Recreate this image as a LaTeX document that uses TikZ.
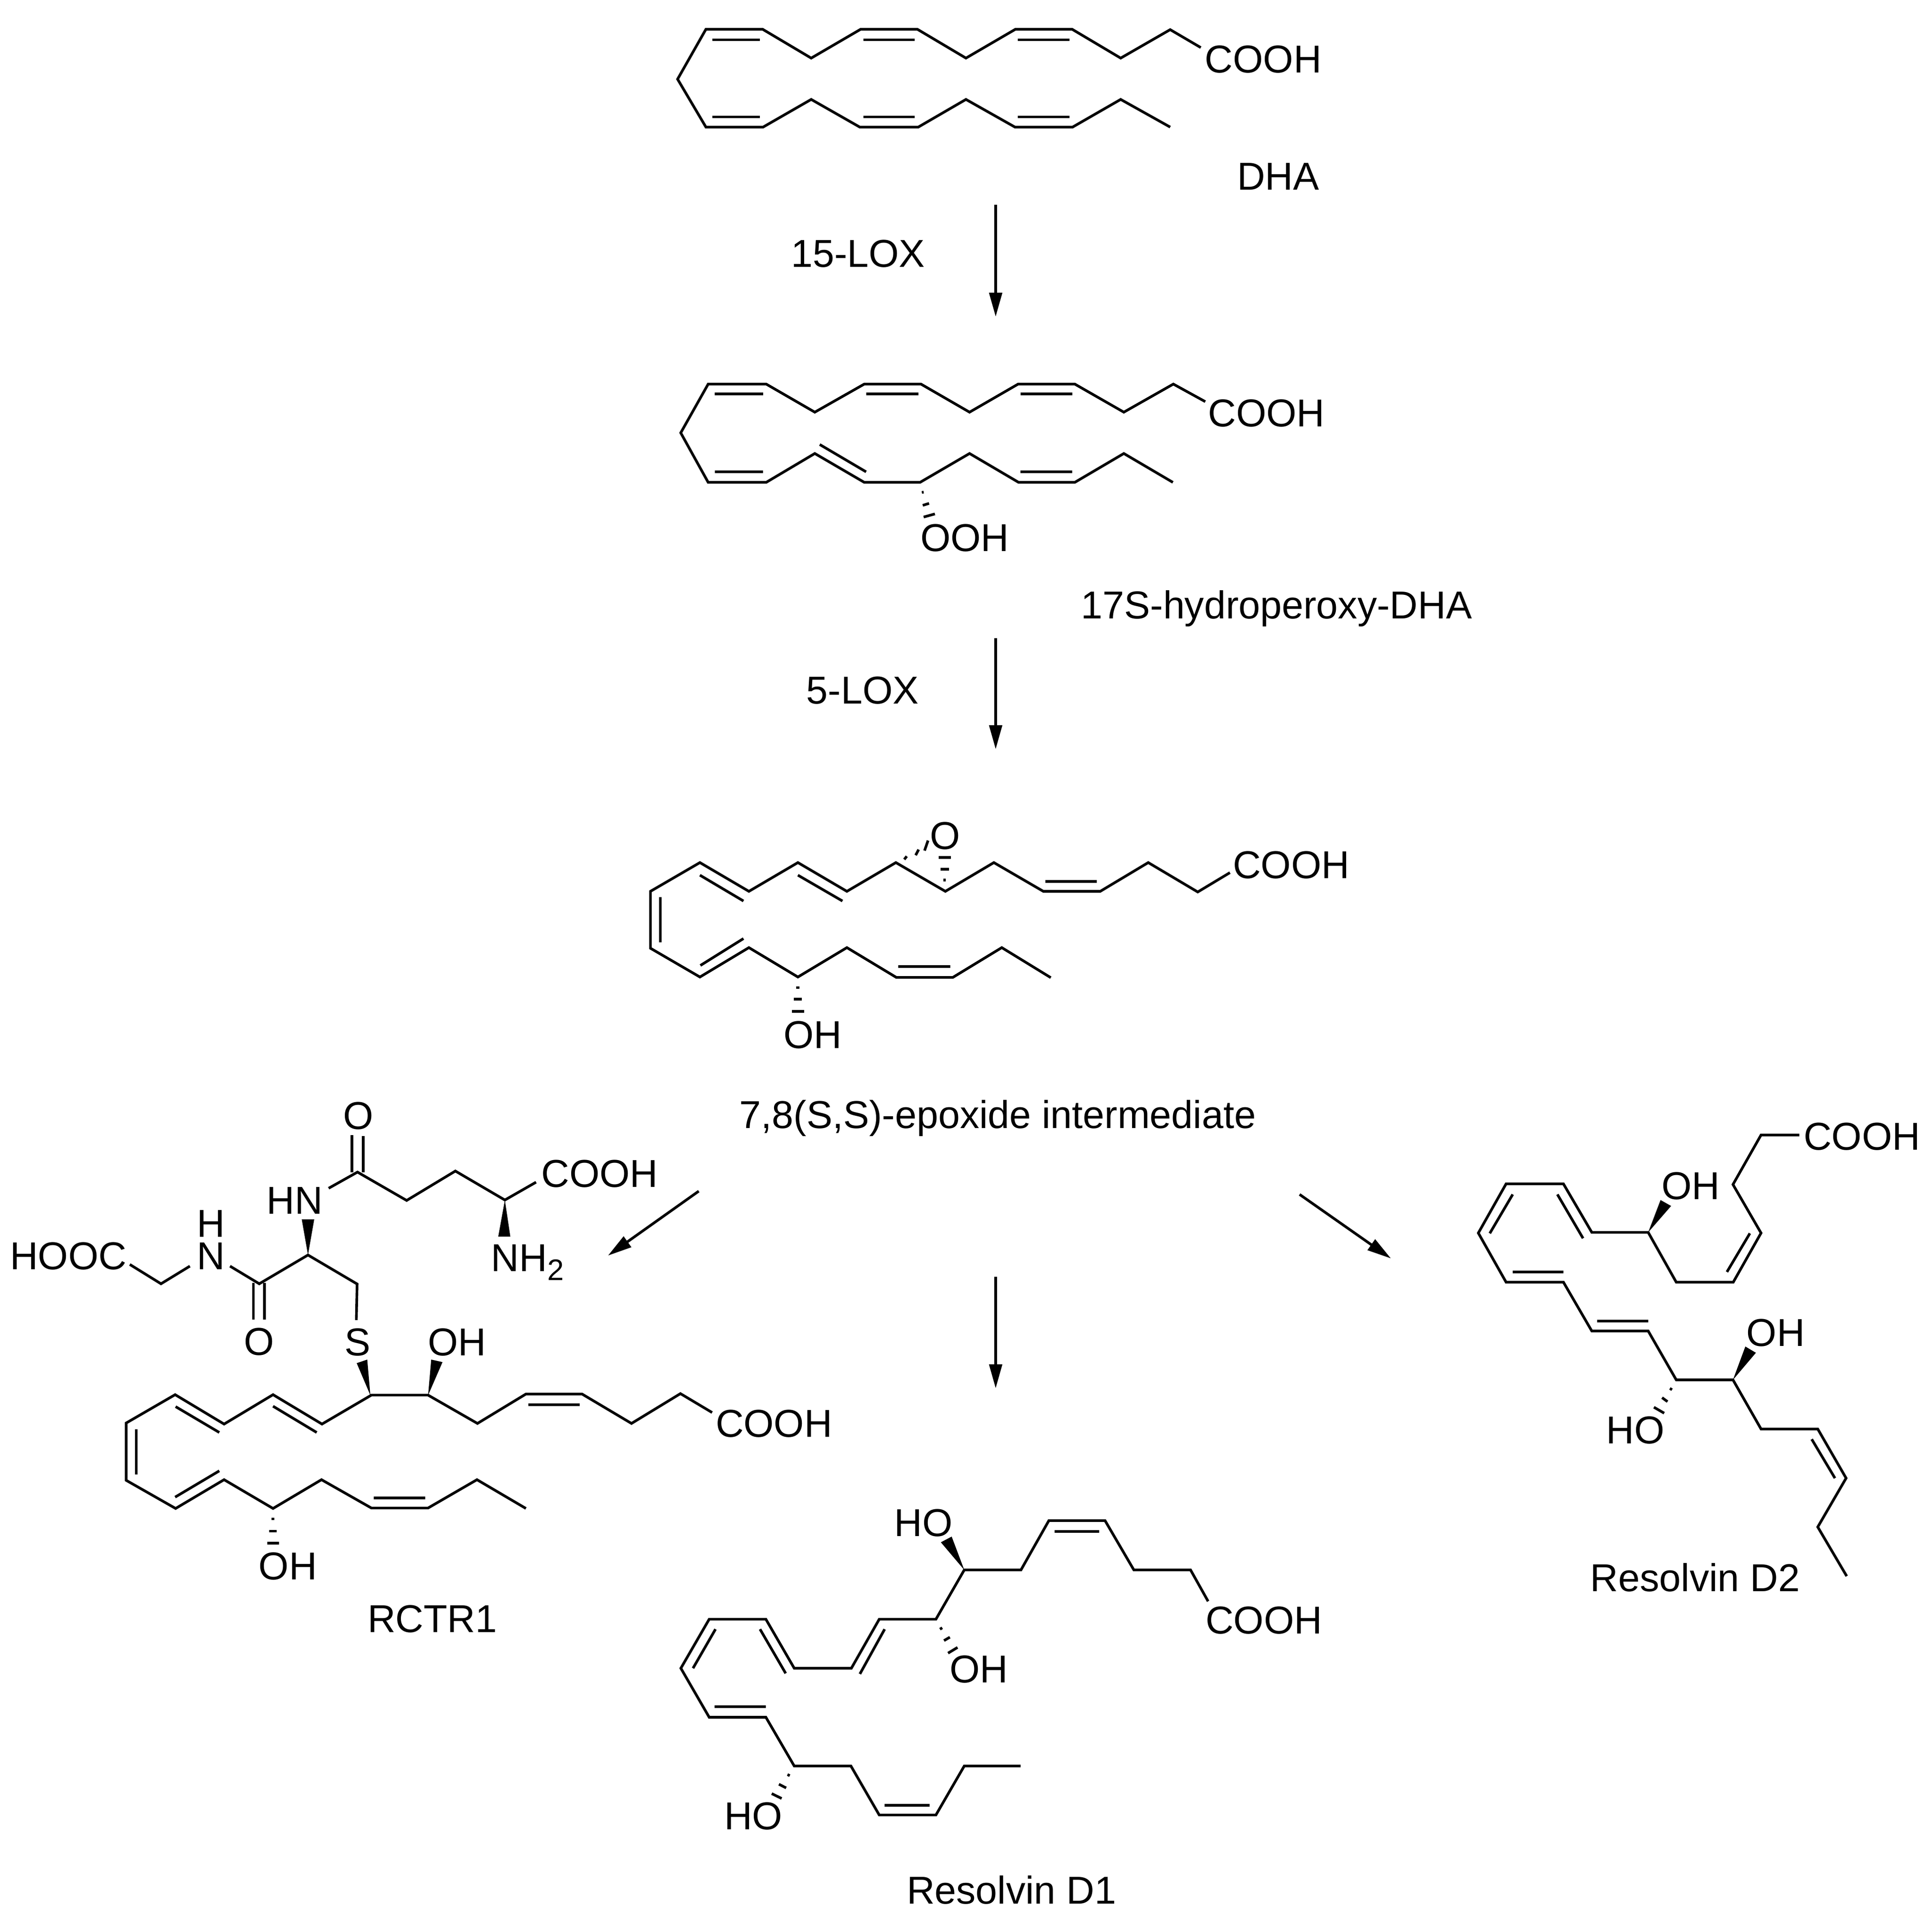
\documentclass[tikz,border=0pt]{standalone}
\usepackage{fontspec}
\setmainfont{Liberation Sans}
\usetikzlibrary{arrows.meta}
\newcommand{\subtwo}{\raisebox{-5.4pt}{\fontsize{18}{18}\selectfont 2}}
\tikzset{
  crop/.style n args={4}{shift={(#1*0.01cm,-#2*0.01cm)},x={0.01cm*#3/1568},y={-0.01cm*#4/1568}},
  bond/.style={line width=1.6pt,line join=miter},
  lab/.style={anchor=base,inner sep=0pt,xshift=0.01cm,yshift=-0.02cm,font=\fontsize{23.5}{28}\selectfont},
  rxn/.style={line width=1.6pt,-{Triangle[length=0.51cm,width=0.27cm]}},
}
\begin{document}
\begin{tikzpicture}
  \useasboundingbox (0,0) rectangle (41.06,-41.00);

  \begin{scope}[crop={1350}{0}{1500}{1300}]
    \draw[bond] (1258,122) -- (1190,76) -- (1080,149) -- (972,75) -- (846,75) -- (736,149) -- (628,75) -- (502,75) -- (392,149) -- (284,75) -- (158,75) -- (95,203) -- (158,326) -- (285,326) -- (392,255) -- (500,326) -- (630,326) -- (736,255) -- (845,326) -- (973,326) -- (1080,255) -- (1190,326);
    \draw[bond] (172,102) -- (278,102) (508,102) -- (622,102) (851,102) -- (966,102);
    \draw[bond] (172,300) -- (278,300) (508,300) -- (622,300) (851,300) -- (966,300);
    \node[lab] (cooh1) at (1396,184) {COOH};
    \node[lab] (dha) at (1429,485) {DHA};
    \node[lab] (lox15) at (495,683) {15-LOX};

    \draw[bond] (1268,1030) -- (1197,985) -- (1087,1057) -- (978,985) -- (852,985) -- (744,1057) -- (636,985) -- (510,985) -- (400,1057) -- (292,985) -- (163,985) -- (102,1110) -- (163,1237) -- (292,1237) -- (400,1163) -- (510,1237) -- (634,1237) -- (744,1163) -- (853,1237) -- (978,1237) -- (1087,1163) -- (1196,1237);
    \draw[bond] (178,1010) -- (285,1010) (514,1010) -- (630,1010) (857,1010) -- (972,1010);
    \draw[bond] (178,1210) -- (285,1210) (411,1140) -- (514,1210) (857,1210) -- (972,1210);
    \draw[bond] (638,1263) -- (642,1262) (640,1296) -- (654,1291) (642,1326) -- (667,1318);
    \node[lab] (cooh2) at (1403,1092) {COOH};
    \node[lab] (ooh) at (732,1412) {OOH};
  \end{scope}

  \node[lab] (hpdha) at (27.12,-13.12) {17S-hydroperoxy-DHA};
  \node[lab] (lox5) at (18.32,-14.93) {5-LOX};

  \begin{scope}[crop={1300}{1700}{1650}{700}]
    \draw[bond] (1250,348) -- (1185,440) -- (1085,300) -- (988,437) -- (873,437) -- (773,300) -- (675,437) -- (575,300) -- (476,437) -- (377,300) -- (278,437) -- (179,300) -- (79,437) -- (79,708) -- (179,845) -- (278,705) -- (377,845) -- (476,705) -- (576,847) -- (690,847) -- (789,705) -- (888,848);
    \draw[bond] (877,390) -- (981,390) (377,360) -- (467,483) (179,360) -- (267,483);
    \draw[bond] (99,465) -- (99,680) (180,790) -- (267,662) (580,795) -- (685,795);
    \draw[bond] (592,285) -- (597,270) (615,265) -- (621,238) (633,243) -- (640,195);
    \draw[bond] (671,383) -- (676,383) (665,332) -- (682,332) (662,275) -- (686,275);
    \draw[bond] (373,895) -- (380,895) (369,950) -- (385,950) (365,1008) -- (390,1008);
    \node[lab] (epo) at (674,232) {O};
    \node[lab] (cooh3) at (1373,370) {COOH};
    \node[lab] (oh3) at (406,1180) {OH};
    \node[lab] (epoxide) at (780,1560) {7,8(S,S)-epoxide intermediate};
  \end{scope}

  \begin{scope}[crop={0}{2300}{1300}{700}]
    \node[lab] (ogln) at (918,222) {O};
    \draw[bond] (903,255) -- (903,430) (932,258) -- (932,432);
    \draw[bond] (843,507) -- (917,430) -- (1043,565) -- (1168,425) -- (1295,563) -- (1375,478);
    \node[lab] (cooh4) at (1537,497) {COOH};
    \fill (1295,563) -- (1278,737) -- (1309,737) -- cycle;
    \node[lab] (nh2) at (1352,898) {NH\subtwo};
    \node[lab] (hn) at (755,624) {HN};
    \fill (790,825) -- (774,655) -- (806,655) -- cycle;
    \draw[bond] (590,878) -- (665,962) -- (790,825) -- (916,963) -- (914,1135);
    \draw[bond] (650,958) -- (650,1133) (678,958) -- (678,1133);
    \node[lab] (ogly) at (663,1297) {O};
    \node[lab,anchor=south,align=center] (ngly) at (540,892) {H\\[-8.1pt]N};
    \node[lab] (hooc) at (174,890) {HOOC};
    \draw[bond] (333,870) -- (413,962) -- (487,878);
    \node[lab] (sul) at (916,1300) {S};
    \node[lab] (oh4) at (1171,1300) {OH};
    \fill (950,1493) -- (915,1340) -- (942,1323) -- cycle;
    \fill (1098,1493) -- (1106,1323) -- (1135,1335) -- cycle;
  \end{scope}

  \begin{scope}[crop={200}{2800}{1600}{700}]
    \draw[bond] (1288,455) -- (1222,365) -- (1120,507) -- (1017,367) -- (900,367) -- (799,507) -- (696,372) -- (578,372) -- (475,510) -- (373,370) -- (271,510) -- (169,370) -- (67,505) -- (67,778) -- (170,912) -- (271,775) -- (373,912) -- (474,775) -- (578,910) -- (696,910) -- (798,775) -- (900,912);
    \draw[bond] (905,418) -- (1012,418) (373,425) -- (464,550) (170,427) -- (261,550);
    \draw[bond] (88,535) -- (88,750) (169,858) -- (261,733) (583,862) -- (690,862);
    \draw[bond] (370,962) -- (376,962) (365,1020) -- (381,1020) (361,1077) -- (385,1077);
    \node[lab] (oh5) at (403,1247) {OH};
    \node[lab] (cooh5) at (1416,568) {COOH};
    \node[lab] (rctr) at (704,1498) {RCTR1};
  \end{scope}

  \begin{scope}[crop={1400}{3150}{1500}{950}]
    \draw[bond] (1222,420) -- (1183,310) -- (1057,310) -- (993,137) -- (868,137) -- (806,310) -- (680,310) -- (617,483) -- (491,483) -- (429,655) -- (302,655) -- (239,483) -- (113,483) -- (50,655) -- (113,827) -- (239,827) -- (302,998) -- (428,998) -- (491,1170) -- (617,1170) -- (680,998) -- (805,998);
    \draw[bond] (881,175) -- (980,175) (503,518) -- (448,675) (226,518) -- (283,673);
    \draw[bond] (127,518) -- (77,655) (125,790) -- (239,790) (503,1136) -- (603,1136);
    \fill (680,310) -- (628,213) -- (652,193) -- cycle;
    \node[lab] (ho6) at (588,188) {HO};
    \draw[bond] (626,518) -- (631,513) (635,558) -- (648,546) (644,602) -- (665,582);
    \node[lab] (oh6) at (711,702) {OH};
    \node[lab] (cooh6) at (1345,530) {COOH};
    \draw[bond] (287,1028) -- (292,1032) (268,1062) -- (284,1075) (252,1095) -- (274,1112);
    \node[lab] (ho7) at (210,1218) {HO};
    \node[lab] (rvd1) at (784,1478) {Resolvin D1};
  \end{scope}

  \begin{scope}[crop={3100}{2350}{1006}{1100}]
    \draw[bond] (1132,90) -- (1005,90) -- (912,240) -- (1005,387) -- (913,536) -- (724,536) -- (631,385) -- (444,385) -- (350,238) -- (160,238) -- (68,387) -- (160,536) -- (350,536) -- (444,684) -- (631,684) -- (724,832) -- (912,832) -- (1005,981) -- (1193,981) -- (1287,1130) -- (1193,1278) -- (1289,1427);
    \draw[bond] (968,388) -- (892,505) (330,270) -- (415,403) (182,270) -- (106,388);
    \draw[bond] (182,505) -- (350,505) (462,654) -- (631,654) (1173,1012) -- (1250,1130);
    \fill (631,385) -- (672,287) -- (707,305) -- cycle;
    \node[lab] (oh8) at (771,282) {OH};
    \node[lab] (cooh8) at (1338,133) {COOH};
    \fill (912,832) -- (953,731) -- (988,750) -- cycle;
    \node[lab] (oh9) at (1052,727) {OH};
    \draw[bond] (703,858) -- (710,862) (677,886) -- (695,898) (650,915) -- (684,933);
    \node[lab] (ho9) at (587,1023) {HO};
    \node[lab] (rvd2) at (785,1470) {Resolvin D2};
  \end{scope}

  \coordinate (a1) at (21.16,-4.35);
  \coordinate (a2) at (21.16,-6.73);
  \coordinate (b1) at (21.16,-13.56);
  \coordinate (b2) at (21.16,-15.92);
  \coordinate (c1) at (14.85,-25.31);
  \coordinate (c2) at (12.92,-26.68);
  \coordinate (d1) at (21.16,-27.13);
  \coordinate (d2) at (21.16,-29.50);
  \coordinate (e1) at (27.62,-25.38);
  \coordinate (e2) at (29.56,-26.74);
  \draw[rxn] (a1) -- (a2);
  \draw[rxn] (b1) -- (b2);
  \draw[rxn] (c1) -- (c2);
  \draw[rxn] (d1) -- (d2);
  \draw[rxn] (e1) -- (e2);
\end{tikzpicture}
\end{document}
